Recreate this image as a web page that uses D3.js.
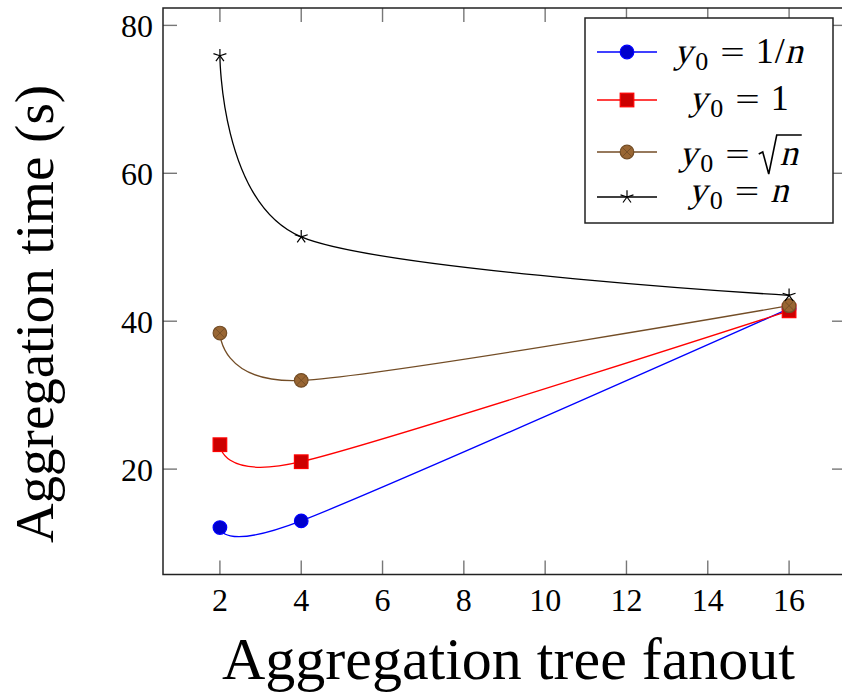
<!DOCTYPE html>
<html>
<head>
<meta charset="utf-8">
<script src="https://cdn.jsdelivr.net/npm/d3@7"></script>
<style>
  body { margin: 0; background: #fff; }
  text { font-family: "Liberation Serif", "Times New Roman", serif; }
</style>
</head>
<body>
<svg width="842" height="692"></svg>
<script>
// fanout values on x
const fanouts = [2, 4, 16];
// aggregation time (s) per initial value y0
const timeInvN = [12.1, 13.0, 41.7];
const timeOne = [23.3, 21.0, 41.4];
const timeSqrtN = [38.4, 32.0, 42.1];
const timeN = [75.9, 51.4, 43.5];
const xTicks = [2, 4, 6, 8, 10, 12, 14, 16];
const yTicks = [20, 40, 60, 80];

const series = [
  { values: timeInvN, line: "#0000ff", fill: "#0000cc", mark: "circle", rhs: "1/n" },
  { values: timeOne, line: "#ff0000", fill: "#cc0000", mark: "square", rhs: "1" },
  { values: timeSqrtN, line: "#734d26", fill: "#996633", mark: "otimes", rhs: "sqrt" },
  { values: timeN, line: "#000000", fill: "none", mark: "star", rhs: "n" }
];

const svg = d3.select("svg");
const plotL = 163, plotR = 846, plotT = 8, plotB = 574.5;

let x = d3.scaleLinear().domain([0.6, 17.4]).range([plotL, plotR]);
let y = d3.scaleLinear().domain([5.75, 82.35]).range([plotB, plotT]);

// ticks, inside on all four sides
const tickLen = 14;
const ticks = svg.append("g").attr("stroke", "#777").attr("stroke-width", 1.4);
xTicks.forEach(v => {
  ticks.append("line").attr("x1", x(v)).attr("x2", x(v)).attr("y1", plotB).attr("y2", plotB - tickLen);
  ticks.append("line").attr("x1", x(v)).attr("x2", x(v)).attr("y1", plotT).attr("y2", plotT + tickLen);
});
yTicks.forEach(v => {
  ticks.append("line").attr("x1", plotL).attr("x2", plotL + tickLen).attr("y1", y(v)).attr("y2", y(v));
  ticks.append("line").attr("x1", plotR).attr("x2", plotR - tickLen).attr("y1", y(v)).attr("y2", y(v));
});

svg.append("rect")
  .attr("x", plotL).attr("y", plotT)
  .attr("width", plotR - plotL).attr("height", plotB - plotT)
  .attr("fill", "none").attr("stroke", "#222").attr("stroke-width", 1.5);

// tick labels
svg.selectAll(".xlab").data(xTicks).enter().append("text")
  .attr("class", "xlab")
  .attr("x", d => x(d)).attr("y", 611)
  .attr("text-anchor", "middle").attr("font-size", 32)
  .text(d => d);
svg.selectAll(".ylab").data(yTicks).enter().append("text")
  .attr("class", "ylab")
  .attr("x", 153).attr("y", d => y(d) + 11.5)
  .attr("text-anchor", "end").attr("font-size", 32)
  .text(d => d);

// axis titles
svg.append("text")
  .attr("x", (plotL + plotR) / 2 + 4).attr("y", 679)
  .attr("text-anchor", "middle").attr("font-size", 60)
  .text("Aggregation tree fanout");
svg.append("text")
  .attr("transform", "translate(53,314) rotate(-90)")
  .attr("text-anchor", "middle").attr("font-size", 55)
  .text("Aggregation time (s)");

const line = d3.line()
  .x((d, i) => x(fanouts[i]))
  .y(d => y(d))
  .curve(d3.curveCardinal.tension(0.15));

function drawMark(g, s, cx, cy) {
  const r = 6.8;
  if (s.mark === "circle") {
    g.append("circle").attr("cx", cx).attr("cy", cy).attr("r", r)
      .attr("fill", s.fill).attr("stroke", s.line).attr("stroke-width", 1.2);
  } else if (s.mark === "square") {
    g.append("rect").attr("x", cx - r).attr("y", cy - r).attr("width", 2 * r).attr("height", 2 * r)
      .attr("fill", s.fill).attr("stroke", s.line).attr("stroke-width", 1.2);
  } else if (s.mark === "otimes") {
    g.append("circle").attr("cx", cx).attr("cy", cy).attr("r", r)
      .attr("fill", s.fill).attr("stroke", s.line).attr("stroke-width", 1.2);
    const d = r * 0.707;
    g.append("path")
      .attr("d", `M${cx - d},${cy - d}L${cx + d},${cy + d}M${cx - d},${cy + d}L${cx + d},${cy - d}`)
      .attr("stroke", s.line).attr("stroke-width", 0.9);
  } else {
    let p = "";
    for (let k = 0; k < 5; k++) {
      const a = -Math.PI / 2 + k * 2 * Math.PI / 5;
      p += `M${cx},${cy}L${cx + r * Math.cos(a)},${cy + r * Math.sin(a)}`;
    }
    g.append("path").attr("d", p).attr("stroke", "#000").attr("stroke-width", 1.2).attr("fill", "none");
  }
}

series.forEach(s => {
  svg.append("path")
    .datum(s.values)
    .attr("d", line)
    .attr("fill", "none")
    .attr("stroke", s.line)
    .attr("stroke-width", 1.3);
});
series.forEach(s => {
  const g = svg.append("g");
  s.values.forEach((v, i) => drawMark(g, s, x(fanouts[i]), y(v)));
});

// legend
const legend = svg.append("g");
legend.append("rect")
  .attr("x", 585).attr("y", 18).attr("width", 248).attr("height", 205)
  .attr("fill", "#fff").attr("stroke", "#222").attr("stroke-width", 1.5);

const rowY = [52, 100, 152, 197];
const rowBase = [63, 110, 165, 202];

// math-like label: pieces laid out left to right, italics by slanting the upright face
function mathLabel(g, rhs, cx, base) {
  const pieces = [
    { t: "y", it: true, size: 36, gap: 0, dy: 0 },
    { t: "0", size: 26, gap: 2, dy: 7 },
    { t: "=", size: 31, sx: 1.4, gap: 12, dy: 0 }
  ];
  if (rhs === "1/n") {
    pieces.push({ t: "1", size: 36, gap: 11, dy: 0 });
    pieces.push({ t: "/", size: 36, gap: 1, dy: 0 });
    pieces.push({ t: "n", it: true, size: 36, gap: 0, dy: 0 });
  } else if (rhs === "1") {
    pieces.push({ t: "1", size: 36, gap: 11, dy: 0 });
  } else if (rhs === "sqrt") {
    pieces.push({ t: "n", it: true, size: 36, gap: 30, dy: 0, root: true });
  } else {
    pieces.push({ t: "n", it: true, size: 36, gap: 11, dy: 0 });
  }
  const row = g.append("g");
  let px = 0, rootAt = null;
  pieces.forEach(p => {
    px += p.gap;
    const sx = p.sx || 1;
    const t = row.append("text")
      .attr("transform", `translate(${px},${p.dy})` + (p.it ? " skewX(-14)" : "") + (sx !== 1 ? ` scale(${sx},1)` : ""))
      .attr("font-size", p.size)
      .text(p.t);
    const w = t.node().getComputedTextLength() * sx;
    if (p.root) rootAt = [px, px + w];
    px += w + (p.it ? 1 : 0);
  });
  if (rootAt) {
    const [ns, ne] = rootAt;
    row.append("path")
      .attr("d", `M${ns - 21},-11L${ns - 17},-13L${ns - 11},9L${ns - 3},-30L${ne + 4},-30`)
      .attr("fill", "none").attr("stroke", "#000").attr("stroke-width", 1.6);
  }
  row.attr("transform", `translate(${cx - px / 2},${base})`);
}

series.forEach((s, i) => {
  legend.append("line")
    .attr("x1", 597).attr("x2", 657).attr("y1", rowY[i]).attr("y2", rowY[i])
    .attr("stroke", s.line).attr("stroke-width", 1.3);
  drawMark(legend, s, 627, rowY[i]);
  mathLabel(legend, s.rhs, 739, rowBase[i]);
});
</script>
</body>
</html>
